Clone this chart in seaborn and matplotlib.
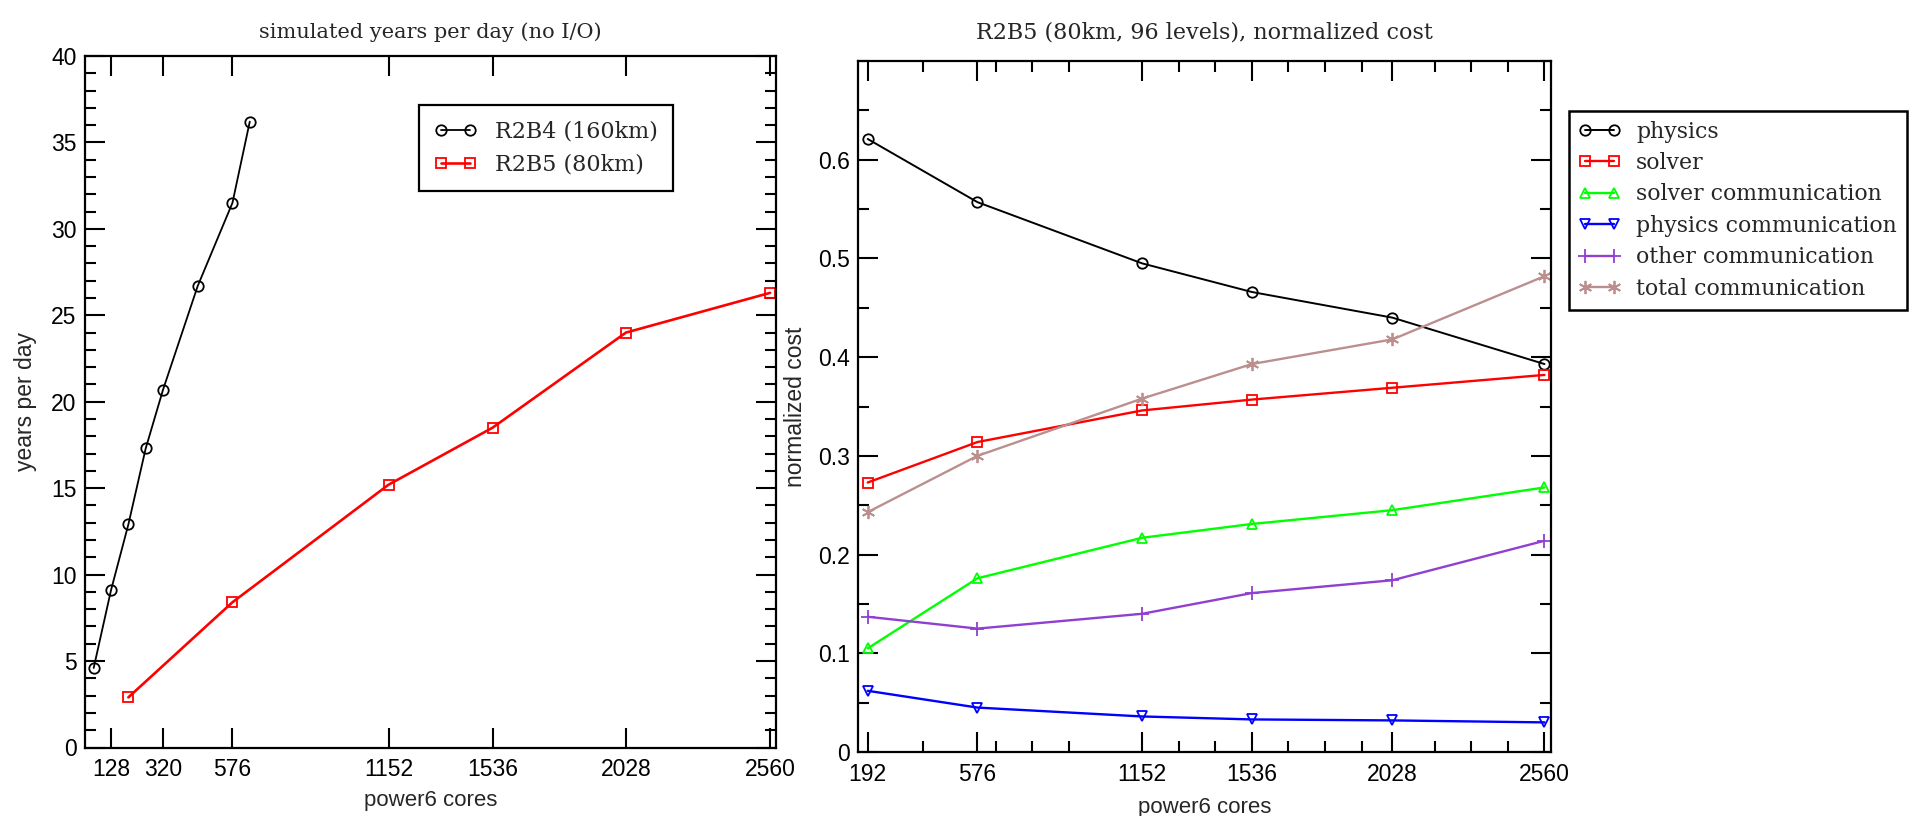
import matplotlib
matplotlib.use("Agg")
import matplotlib.pyplot as plt
import seaborn as sns
from matplotlib.ticker import FixedLocator, MultipleLocator, NullLocator, FixedFormatter

# ---------------- data ----------------
r2b4_cores = [64, 128, 192, 256, 320, 448, 576, 640]
r2b4_ypd = [4.6, 9.1, 12.9, 17.3, 20.7, 26.7, 31.5, 36.2]
r2b5_cores = [192, 576, 1152, 1536, 2028, 2560]
r2b5_ypd = [2.9, 8.4, 15.2, 18.5, 24.0, 26.3]

cost_cores = [192, 576, 1152, 1536, 2028, 2560]
physics = [0.621, 0.557, 0.495, 0.466, 0.440, 0.393]
solver = [0.273, 0.314, 0.346, 0.357, 0.369, 0.382]
solver_comm = [0.105, 0.176, 0.217, 0.231, 0.245, 0.268]
physics_comm = [0.062, 0.045, 0.036, 0.033, 0.032, 0.030]
other_comm = [0.137, 0.125, 0.140, 0.161, 0.174, 0.214]
total_comm = [0.243, 0.300, 0.358, 0.393, 0.418, 0.482]

left_xticks = [128, 320, 576, 1152, 1536, 2028, 2560]
right_xticks = [192, 576, 1152, 1536, 2028, 2560]
right_xminor = [384, 640, 768, 896, 1280, 1408, 1664, 1792, 1920, 2176, 2304, 2432]
right_yticks = [0, 0.1, 0.2, 0.3, 0.4, 0.5, 0.6]
right_ylabels = ["0", "0.1", "0.2", "0.3", "0.4", "0.5", "0.6"]

# ---------------- style ----------------
sns.set_style("white")
plt.rcParams["font.family"] = ["Liberation Sans", "DejaVu Sans"]
SERIF = ["DejaVu Serif"]

W, H = 1912, 816
fig = plt.figure(figsize=(W / 100, H / 100), dpi=100)
ax1 = fig.add_axes([85 / W, 1 - 747.5 / H, 690.5 / W, 691.5 / H])
ax2 = fig.add_axes([858 / W, 1 - 752 / H, 692.5 / W, 691 / H])


def style(ax, xpad, ypad):
    for s in ax.spines.values():
        s.set_visible(True)
        s.set_color("black")
        s.set_linewidth(1.6)
    ax.grid(False)
    ax.tick_params(which="both", direction="in", top=True, right=True,
                   bottom=True, left=True, color="black", width=1.5,
                   labelsize=16.5, labelcolor="black")
    ax.tick_params(which="major", length=14.5)
    ax.tick_params(which="minor", length=8)
    ax.tick_params(axis="x", which="both", pad=xpad)
    ax.tick_params(axis="y", which="both", pad=ypad)


def line(ax, x, y, color, marker, label, lw=1.7, ms=7.5, mfc="none"):
    sns.lineplot(x=x, y=y, ax=ax, color=color, linewidth=lw, marker=marker,
                 markersize=ms, markerfacecolor=mfc, markeredgecolor=color,
                 markeredgewidth=1.3, label=label, legend=False)


# ---------------- left panel ----------------
line(ax1, r2b4_cores, r2b4_ypd, "black", "o", "R2B4 (160km)", lw=1.3)
line(ax1, r2b5_cores, r2b5_ypd, "#ff0000", "s", "R2B5 (80km)", lw=1.9)

ax1.set_xlim(32, 2580)
ax1.set_ylim(0, 40)
ax1.xaxis.set_major_locator(FixedLocator(left_xticks))
ax1.xaxis.set_minor_locator(NullLocator())
ax1.yaxis.set_major_locator(MultipleLocator(5))
ax1.yaxis.set_minor_locator(MultipleLocator(1))
style(ax1, xpad=7.5, ypad=6)
ax1.set_title("simulated years per day (no I/O)", family=SERIF, fontsize=15, pad=13)
ax1.set_xlabel("power6 cores", fontsize=16)
ax1.set_ylabel("years per day", fontsize=16.5)
ax1.xaxis.set_label_coords(0.5, -0.0615)
ax1.yaxis.set_label_coords(-0.0695, 0.5)

leg1 = ax1.legend(loc="upper left", bbox_to_anchor=(419 / W, 1 - 105 / H),
                  bbox_transform=fig.transFigure, prop={"family": SERIF, "size": 16},
                  frameon=True, fancybox=False, edgecolor="black", framealpha=1,
                  numpoints=2, handlelength=1.9, handletextpad=0.8,
                  borderpad=0.7, labelspacing=0.5, borderaxespad=0)
leg1.get_frame().set_linewidth(1.6)

# ---------------- right panel ----------------
line(ax2, cost_cores, physics, "black", "o", "physics", lw=1.4)
line(ax2, cost_cores, solver, "#ff0000", "s", "solver")
line(ax2, cost_cores, solver_comm, "#00ff00", "^", "solver communication")
line(ax2, cost_cores, physics_comm, "#0000ff", "v", "physics communication")
line(ax2, cost_cores, other_comm, "#9040d0", "+", "other communication", ms=9.5)
line(ax2, cost_cores, total_comm, "#bc8f8f", (6, 2, 0), "total communication", ms=9.5)

ax2.set_xlim(158, 2581)
ax2.set_ylim(0, 0.70)
ax2.xaxis.set_major_locator(FixedLocator(right_xticks))
ax2.xaxis.set_minor_locator(FixedLocator(right_xminor))
ax2.yaxis.set_major_locator(FixedLocator(right_yticks))
ax2.yaxis.set_major_formatter(FixedFormatter(right_ylabels))
ax2.yaxis.set_minor_locator(MultipleLocator(0.05))
style(ax2, xpad=8, ypad=5.5)
ax2.set_title("R2B5 (80km, 96 levels), normalized cost", family=SERIF, fontsize=16, pad=16)
ax2.set_xlabel("power6 cores", fontsize=16)
ax2.set_ylabel("normalized cost", fontsize=16.5)
ax2.xaxis.set_label_coords(0.5, -0.0651)
ax2.yaxis.set_label_coords(-0.074, 0.5)

leg2 = ax2.legend(loc="upper left", bbox_to_anchor=(1569 / W, 1 - 110.7 / H),
                  bbox_transform=fig.transFigure, prop={"family": SERIF, "size": 15.8},
                  frameon=True, fancybox=False, edgecolor="black", framealpha=1,
                  numpoints=2, handlelength=1.9, handletextpad=0.7,
                  borderpad=0.45, labelspacing=0.43, borderaxespad=0)
leg2.get_frame().set_linewidth(1.8)

fig.savefig("out.png", dpi=100)
